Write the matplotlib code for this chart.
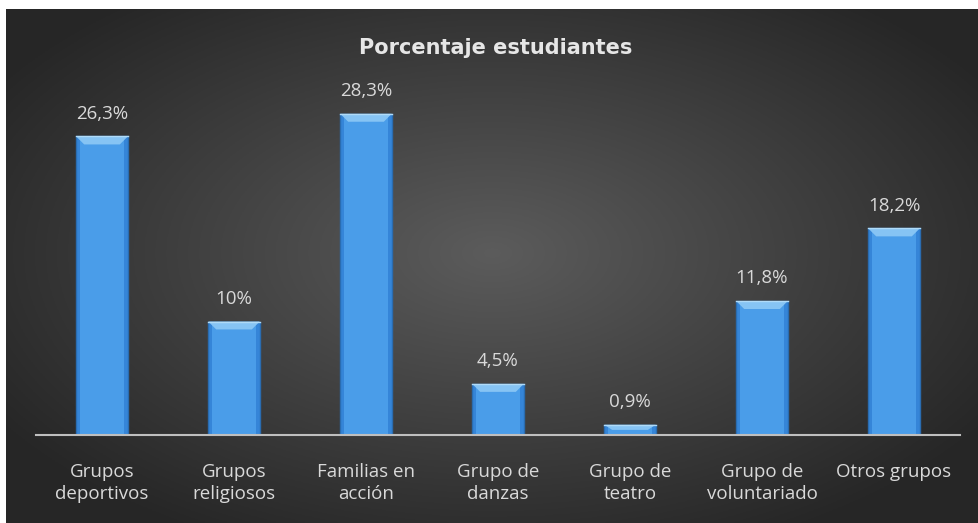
import numpy as np
import matplotlib.pyplot as plt

categories = ['Grupos\ndeportivos', 'Grupos\nreligiosos', 'Familias en\nacción',
              'Grupo de\ndanzas', 'Grupo de\nteatro', 'Grupo de\nvoluntariado', 'Otros grupos']
values = [26.3, 10.0, 28.3, 4.5, 0.9, 11.8, 18.2]
labels = ['26,3%', '10%', '28,3%', '4,5%', '0,9%', '11,8%', '18,2%']

plt.rcParams['font.family'] = ['Open Sans', 'DejaVu Sans']

fig = plt.figure(figsize=(9.79, 5.23), dpi=100)
fig.patch.set_facecolor('white')

# dark radial background
bg = fig.add_axes([6/979, 0, 1 - 6/979, 1 - 9/523])
gx, gy = np.meshgrid(np.linspace(-1, 1, 400), np.linspace(-1, 1, 220))
r = np.sqrt((gx / 1.15) ** 2 + ((gy + 0.05) / 1.2) ** 2)
shade = np.clip(0.36 - 0.2 * r, 0.15, 0.36)
bg.imshow(np.dstack([shade, shade, shade]), aspect='auto', extent=[0, 1, 0, 1])
bg.axis('off')

ax = fig.add_axes([36/979, 1 - 435/523, 924/979, 340.5/523])
ax.patch.set_alpha(0)
x = np.arange(len(values))
w = 0.39
ax.bar(x, values, width=w, color='#3585d8', edgecolor='#2a6cb0', linewidth=1.0, zorder=2)
ax.bar(x, values, width=w * 0.86, color='#4a9de9', linewidth=0, zorder=2)

# bevel on top of each bar
dy = 0.7
for xi, v in zip(x, values):
    h = min(dy, v * 0.5)
    ax.fill([xi - w/2, xi + w/2, xi + w/2 - 0.06, xi - w/2 + 0.06],
            [v, v, v - h, v - h], color='#86c4f4', zorder=3, lw=0)
    ax.plot([xi - w/2, xi + w/2], [v, v], color='#b0dbf8', lw=1, zorder=4)

for xi, v, t in zip(x, values, labels):
    ax.text(xi, v + 1.2, t, ha='center', va='bottom', color='#d9d9d9', fontsize=13.5)

ax.set_xlim(-0.5, len(values) - 0.5)
ax.set_ylim(0, 30)
ax.set_yticks([])
ax.set_xticks(x)
ax.set_xticklabels(categories, color='#d9d9d9', fontsize=13.5, linespacing=1.3)
ax.tick_params(axis='x', length=0, pad=20)
for s in ['top', 'right', 'left']:
    ax.spines[s].set_visible(False)
ax.spines['bottom'].set_color('#bfbfbf')
ax.spines['bottom'].set_linewidth(1.5)

fig.text(496/979, 1 - 48/523, 'Porcentaje estudiantes',
         ha='center', va='center', color='#e6e6e6', fontsize=15, fontweight='bold',
         family='DejaVu Sans')

fig.savefig('out.png', dpi=100)
